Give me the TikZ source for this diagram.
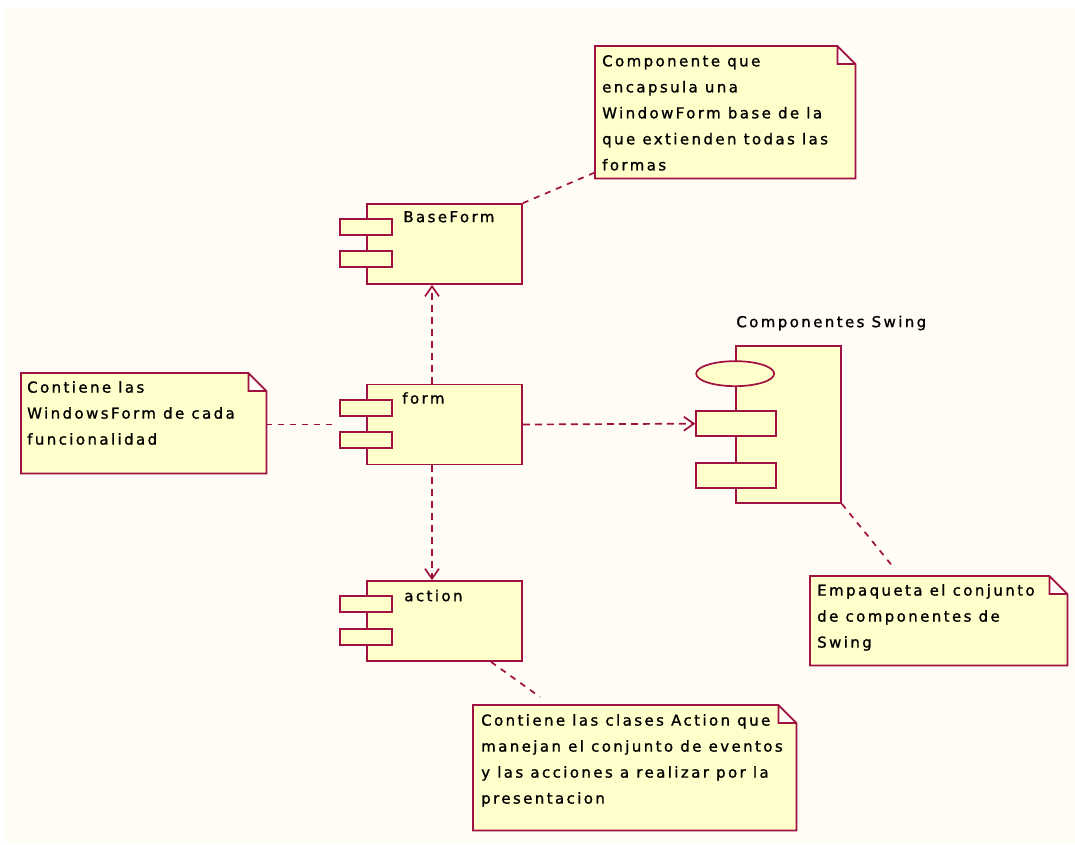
\documentclass[tikz,border=0pt]{standalone}
\usepackage{fontspec}
\newfontfamily\umlfont[LetterSpace=16,FakeBold=1.2]{DejaVu Sans}
\usetikzlibrary{positioning,shapes.geometric,arrows.meta}
\definecolor{roseline}{RGB}{160,16,64}
\definecolor{rosefill}{RGB}{255,255,204}
\definecolor{rosebg}{RGB}{255,251,245}

\begin{document}
\begin{tikzpicture}[x=1pt,y=-1pt,font={\umlfont\fontsize{15}{26}\selectfont},
    >={Straight Barb[length=10pt,width=14pt]}]
     \tikzstyle{comp}=[draw=roseline, fill=rosefill, line width=1.7pt, minimum width=155pt, minimum height=80pt, inner sep=0pt]
     \tikzstyle{port}=[draw=roseline, fill=rosefill, line width=1.7pt, minimum width=52pt, minimum height=16pt, inner sep=0pt]
     \tikzstyle{part}=[draw=roseline, fill=rosefill, line width=1.7pt, minimum width=80pt, minimum height=25pt, inner sep=0pt]
     \tikzstyle{noteframe}=[minimum width=#1, anchor=north west, inner sep=0pt]
     \tikzstyle{notefold}=[draw=roseline, fill=rosefill, line width=1.7pt]
     \tikzstyle{notetext}=[align=left, inner sep=0pt]
     \tikzstyle{label}=[anchor=base west, inner sep=0pt]
     \tikzstyle{dep}=[draw=roseline, line width=1.7pt, dash pattern=on 7pt off 5pt, ->]
     \tikzstyle{anchorline}=[draw=roseline, line width=1.7pt, dash pattern=on 6pt off 6pt]

     % canvas
     \useasboundingbox (0,0) rectangle (1075,844);
     \fill[white] (0,0) rectangle (1075,844);
     \fill[rosebg] (5,9) rectangle (1075,844);

     % components
     \node[comp] (bf) at (444.5,244) {};
     \node[port] (bfp1) at ([yshift=-24pt]bf.north west) {};
     \node[port] (bfp2) at ([yshift=-56pt]bf.north west) {};
     \node[label] (bfl) at ([shift={(37,19)}]bf.north west) {BaseForm};

     \node[comp] (fm) at (444.5,424.5) {};
     \node[port] (fmp1) at ([yshift=-24pt]fm.north west) {};
     \node[port] (fmp2) at ([yshift=-56pt]fm.north west) {};
     \node[label] (fml) at ([shift={(36,20)}]fm.north west) {form};

     \node[comp] (ac) at (444.5,621) {};
     \node[port] (acp1) at ([yshift=-24pt]ac.north west) {};
     \node[port] (acp2) at ([yshift=-57pt]ac.north west) {};
     \node[label] (acl) at ([shift={(38,21)}]ac.north west) {action};

     % swing package
     \node[comp, minimum width=105pt, minimum height=157pt] (sw) at (788.5,424.5) {};
     \node[ellipse, part, minimum width=78pt] (swe) at ([shift={(0,28.5)}]sw.north west) {};
     \node[part] (swp1) at ([shift={(1,78.5)}]sw.north west) {};
     \node[part] (swp2) at ([shift={(1,130)}]sw.north west) {};
     \node[label] (swl) at ([shift={(1,-18)}]sw.north west) {Componentes Swing};

     % notes
     \node[noteframe=260pt, minimum height=132pt] (ntop) at (595,46) {};
     \node[noteframe=245pt, minimum height=100pt] (nleft) at (21,373) {};
     \node[noteframe=257pt, minimum height=89pt] (nswing) at (810,576) {};
     \node[noteframe=323pt, minimum height=125pt] (naction) at (473,705) {};
     \foreach \n in {ntop,nleft,nswing,naction}
       \path[notefold] (\n.north west) -- ([xshift=-18pt]\n.north east) -- ([yshift=-18pt]\n.north east)
         -- (\n.south east) -- (\n.south west) -- cycle
         ([xshift=-18pt]\n.north east) |- ([yshift=-18pt]\n.north east);

     \node[notetext, below right=9pt and 7pt of ntop.north west] (ttop)
       {Componente que\\encapsula una\\WindowForm base de la\\que extienden todas las\\formas};
     \node[notetext, below right=8pt and 6pt of nleft.north west] (tleft)
       {Contiene las\\WindowsForm de cada\\funcionalidad};
     \node[notetext, below right=8pt and 7pt of nswing.north west] (tswing)
       {Empaqueta el conjunto\\de componentes de\\Swing};
     \node[notetext, below right=9pt and 8pt of naction.north west] (taction)
       {Contiene las clases Action que\\manejan el conjunto de eventos\\y las acciones a realizar por la\\presentacion};

     % dependencies
     \draw[dep] ([xshift=-12.5pt]fm.north) -- ([xshift=-12.5pt]bf.south);
     \draw[dep] ([xshift=-12.5pt]fm.south) -- ([xshift=-12.5pt]ac.north);
     \draw[dep] (fm.east) -- (swp1.west);

     % note anchors
     \draw[anchorline] (nleft.east |- fm.west) -- ([xshift=-5pt]fmp1.west |- fm.west);
     \draw[anchorline] (bf.north east) -- ([yshift=6pt]ntop.south west);
     \draw[anchorline] (sw.south east) -- ([shift={(84,-8)}]nswing.north west);
     \draw[anchorline] ([xshift=46.5pt]ac.south) -- ([shift={(67,-8)}]naction.north west);
\end{tikzpicture}
\end{document}
